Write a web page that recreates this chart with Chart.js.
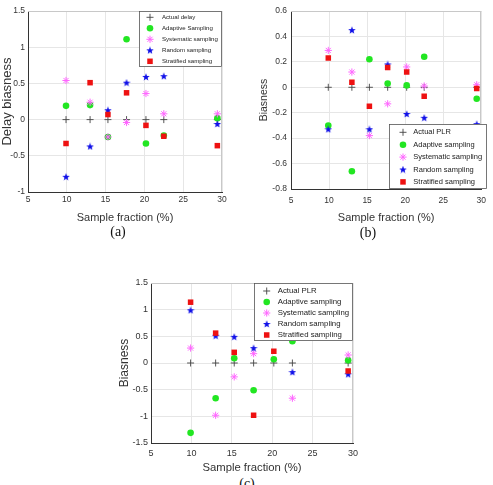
<!DOCTYPE html>
<html><head><meta charset="utf-8">
<script src="https://cdn.jsdelivr.net/npm/chart.js@4/dist/chart.umd.min.js"></script>
<style>
body{margin:0;background:#fff;width:493px;height:485px;overflow:hidden;position:relative;}
canvas{position:absolute;}
.cap{position:absolute;font-family:"Liberation Serif","Times New Roman",serif;font-size:14px;color:#111;transform:translate(-50%,-50%);white-space:nowrap;}
</style></head><body>
<canvas id="ca" width="240" height="225" style="left:0;top:0"></canvas>
<canvas id="cb" width="248" height="225" style="left:245px;top:0"></canvas>
<canvas id="cc" width="258" height="205" style="left:117px;top:270px"></canvas>
<div class="cap" style="left:118px;top:232px">(a)</div>
<div class="cap" style="left:368px;top:233px">(b)</div>
<div class="cap" style="left:247px;top:484px">(c)</div>
<script>
// ---------- data ----------
const sampleFraction = [9.9, 13.0, 15.3, 17.7, 20.2, 22.5, 29.4];
const xTicks = [5, 10, 15, 20, 25, 30];

const namesA = ['Actual delay', 'Adaptive Sampling', 'Systematic sampling', 'Random sampling', 'Stratified sampling'];
const namesBC = ['Actual PLR', 'Adaptive sampling', 'Systematic sampling', 'Random sampling', 'Stratified sampling'];

const yTicksA = [-1, -0.5, 0, 0.5, 1, 1.5];
const a_actual     = [0, 0, 0, 0, 0, 0, 0];
const a_adaptive   = [0.19, 0.20, -0.24, 1.11, -0.33, -0.22, 0.02];
const a_systematic = [0.54, 0.24, -0.24, -0.04, 0.36, 0.08, 0.08];
const a_random     = [-0.79, -0.37, 0.13, 0.51, 0.59, 0.60, -0.06];
const a_stratified = [-0.33, 0.51, 0.07, 0.37, -0.08, -0.23, -0.36];

const yTicksB = [-0.8, -0.6, -0.4, -0.2, 0, 0.2, 0.4, 0.6];
const b_actual     = [0, 0, 0, 0, 0, 0, 0];
const b_adaptive   = [-0.30, -0.66, 0.22, 0.03, 0.015, 0.24, -0.09];
const b_systematic = [0.29, 0.12, -0.38, -0.13, 0.16, 0.01, 0.02];
const b_random     = [-0.33, 0.45, -0.33, 0.18, -0.21, -0.24, -0.29];
const b_stratified = [0.23, 0.04, -0.15, 0.155, 0.12, -0.07, -0.01];

const yTicksC = [-1.5, -1, -0.5, 0, 0.5, 1, 1.5];
const c_actual     = [0, 0, 0, 0, 0, 0, 0];
const c_adaptive   = [-1.31, -0.66, 0.09, -0.51, 0.07, 0.41, 0.05];
const c_systematic = [0.28, -0.98, -0.26, 0.175, null, -0.66, 0.15];
const c_random     = [0.99, 0.51, 0.49, 0.28, null, -0.17, -0.21];
const c_stratified = [1.14, 0.56, 0.20, -0.98, 0.22, null, -0.15];

// ---------- styles ----------
const FAM = '"Liberation Sans", Arial, sans-serif';
function makeStar(size, color) {
  const c = document.createElement('canvas');
  c.width = size; c.height = size;
  const g = c.getContext('2d');
  const cx = size / 2, cy = size / 2 + 0.3, R = size / 2, r = R * 0.42;
  g.beginPath();
  for (let i = 0; i < 10; i++) {
    const rad = (i % 2 === 0) ? R : r;
    const ang = -Math.PI / 2 + i * Math.PI / 5;
    const px = cx + rad * Math.cos(ang), py = cy + rad * Math.sin(ang);
    if (i === 0) g.moveTo(px, py); else g.lineTo(px, py);
  }
  g.closePath();
  g.fillStyle = color; g.fill();
  return c;
}
const starImg = makeStar(8, '#1010e8');
const styles = [
  {pointStyle: 'cross', bg: '#444', border: '#444', radius: 3.5, bw: 0.9},
  {pointStyle: 'circle', bg: '#22e622', border: '#22e622', radius: 3.3, bw: 0},
  {pointStyle: 'star', bg: '#ff66ff', border: '#ff66ff', radius: 3.6, bw: 1},
  {pointStyle: starImg, bg: '#1010e8', border: '#1010e8', radius: 4, bw: 0},
  {pointStyle: 'rect', bg: '#ee1111', border: '#ee1111', radius: 3.9, bw: 0}
];

function makeDatasets(names, series) {
  return series.map((vals, i) => ({
    label: names[i],
    data: sampleFraction.map((x, k) => ({x: x, y: vals[k]})).filter(p => p.y !== null),
    pointStyle: styles[i].pointStyle,
    pointBackgroundColor: styles[i].bg,
    pointBorderColor: styles[i].border,
    pointBorderWidth: styles[i].bw,
    pointRadius: styles[i].radius,
    order: 4 - i,
    showLine: false
  }));
}

const framePlugin = {
  id: 'frame',
  afterDatasetsDraw(chart, args, opts) {
    const ctx = chart.ctx, ca = chart.chartArea;
    ctx.save();
    ctx.strokeStyle = '#c8c8c8'; ctx.lineWidth = 1;
    ctx.beginPath();
    ctx.moveTo(ca.left, Math.round(ca.top) + 0.5); ctx.lineTo(ca.right, Math.round(ca.top) + 0.5);
    ctx.moveTo(Math.round(ca.right) - 0.5, ca.top); ctx.lineTo(Math.round(ca.right) - 0.5, ca.bottom);
    ctx.stroke();
    const L = opts.legend;
    if (L) {
      ctx.fillStyle = '#fff'; ctx.fillRect(L.x, L.y, L.w, L.h);
      ctx.strokeStyle = '#555'; ctx.lineWidth = 0.8;
      ctx.strokeRect(L.x + 0.5, L.y + 0.5, L.w - 1, L.h - 1);
      chart.data.datasets.forEach((ds, i) => {
        const y = L.y0 + i * L.dy;
        ctx.fillStyle = ds.pointBackgroundColor;
        ctx.strokeStyle = ds.pointBorderColor;
        ctx.lineWidth = ds.pointBorderWidth;
        if (Chart.helpers && Chart.helpers.drawPoint) {
          Chart.helpers.drawPoint(ctx, {pointStyle: ds.pointStyle, radius: ds.pointRadius, rotation: 0, borderWidth: ds.pointBorderWidth}, L.mx, y);
        }
        ctx.fillStyle = '#222';
        ctx.font = L.font + 'px ' + FAM;
        ctx.textBaseline = 'middle'; ctx.textAlign = 'left';
        ctx.fillText(ds.label, L.tx, y);
      });
    }
    ctx.restore();
  }
};

function makeChart(id, names, series, yTicks, cfg) {
  new Chart(document.getElementById(id), {
    type: 'scatter',
    data: {datasets: makeDatasets(names, series)},
    plugins: [framePlugin],
    options: {
      responsive: false, animation: false, devicePixelRatio: 1,
      layout: {padding: cfg.pad},
      plugins: {legend: {display: false}, tooltip: {enabled: false}, frame: {legend: cfg.legend}},
      scales: {
        x: {
          type: 'linear', min: 5, max: 30,
          afterBuildTicks: s => { s.ticks = xTicks.map(v => ({value: v})); },
          grid: {color: '#e6e6e6', drawTicks: false, lineWidth: 1},
          border: {color: '#333', width: 1},
          ticks: {font: {size: cfg.tick, family: FAM}, color: '#333', padding: cfg.xpad, maxRotation: 0, callback: v => String(v)},
          title: {display: true, text: 'Sample fraction (%)', font: {size: cfg.xt, family: FAM}, color: '#333', padding: {top: 0, bottom: 0}},
          afterFit: s => { s.height = cfg.xh; }
        },
        y: {
          type: 'linear', min: yTicks[0], max: yTicks[yTicks.length - 1],
          afterBuildTicks: s => { s.ticks = yTicks.map(v => ({value: v})); },
          grid: {color: '#e6e6e6', drawTicks: false, lineWidth: 1},
          border: {color: '#333', width: 1},
          ticks: {font: {size: cfg.tick, family: FAM}, color: '#333', padding: cfg.ypad, callback: v => String(v)},
          title: {display: true, text: cfg.ytitle, font: {size: cfg.yt, family: FAM}, color: '#333', padding: {top: 0, bottom: 0}},
          afterFit: s => { s.width = cfg.yw; }
        }
      }
    }
  });
}

makeChart('ca', namesA, [a_actual, a_adaptive, a_systematic, a_random, a_stratified], yTicksA, {
  pad: {left: 0, top: 11, right: 18, bottom: 0}, yw: 28, xh: 33, tick: 8.5, xt: 11, yt: 13,
  xpad: 3, ypad: 3, ytitle: 'Delay biasness',
  legend: {x: 139, y: 11, w: 83, h: 56, y0: 17.3, dy: 11, mx: 150, tx: 162, font: 6.1}
});
makeChart('cb', namesBC, [b_actual, b_adaptive, b_systematic, b_random, b_stratified], yTicksB, {
  pad: {left: 13, top: 11, right: 6, bottom: 0}, yw: 33, xh: 36, tick: 8.5, xt: 11, yt: 10.5,
  xpad: 7, ypad: 4, ytitle: 'Biasness',
  legend: {x: 144, y: 124, w: 98, h: 65, y0: 132.3, dy: 12.4, mx: 158, tx: 168.3, font: 7.5}
});
makeChart('cc', namesBC, [c_actual, c_adaptive, c_systematic, c_random, c_stratified], yTicksC, {
  pad: {left: 0, top: 13, right: 22, bottom: 0}, yw: 34, xh: 32, tick: 9, xt: 11.3, yt: 12,
  xpad: 5, ypad: 3, ytitle: 'Biasness',
  legend: {x: 137, y: 13, w: 99, h: 58, y0: 21, dy: 11, mx: 149.7, tx: 160.7, font: 7.8}
});
</script>
</body></html>
